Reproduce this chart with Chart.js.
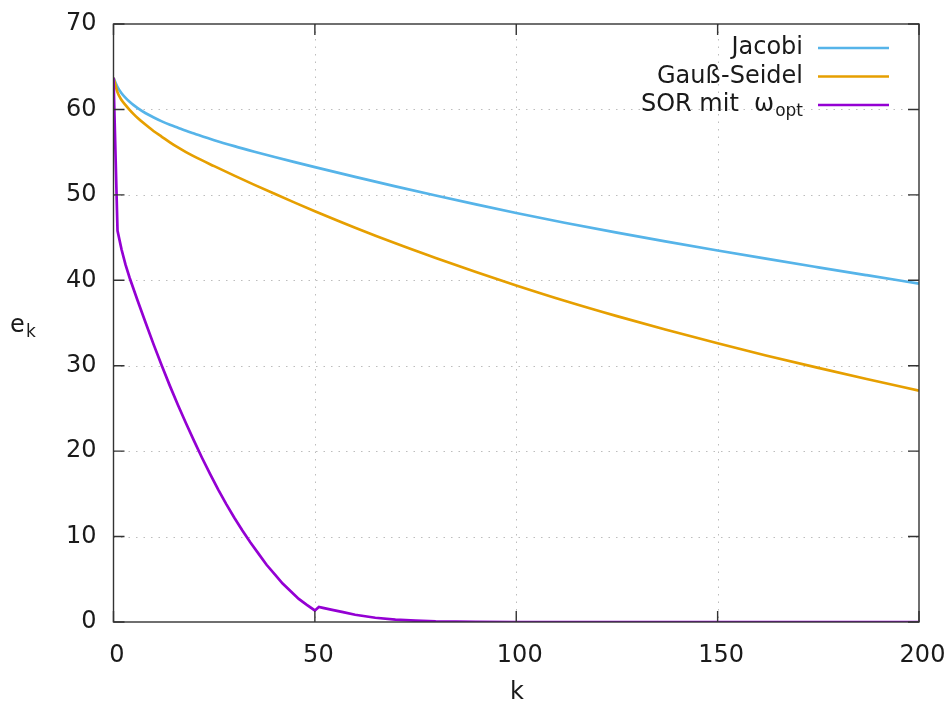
<!DOCTYPE html>
<html>
<head>
<meta charset="utf-8">
<script src="https://cdn.jsdelivr.net/npm/chart.js@4.4.1/dist/chart.umd.min.js"></script>
<style>
  html, body { margin: 0; padding: 0; background: #fff; }
  #wrap { width: 948px; height: 702px; }
</style>
</head>
<body>
<div id="wrap"><canvas id="chart" width="948" height="702"></canvas></div>
<script>
// ---- data ----
const kJacobi = [0, 1, 2, 3, 4, 5, 6, 8, 10, 12, 14, 16, 18, 20, 25, 30, 35, 40, 45, 50, 60, 70, 80, 90, 100, 112, 125, 137, 150, 162, 175, 187, 200];
const eJacobi = [63.7, 62.6, 61.9, 61.35, 60.9, 60.5, 60.15, 59.55, 59.05, 58.6, 58.2, 57.85, 57.5, 57.18, 56.4, 55.7, 55.05, 54.43, 53.83, 53.25, 52.11, 51.0, 49.92, 48.88, 47.88, 46.74, 45.58, 44.56, 43.49, 42.53, 41.52, 40.6, 39.61];

const kGauss = [0, 1, 2, 3, 4, 5, 6, 8, 10, 12, 14, 16, 18, 20, 25, 30, 35, 40, 45, 50, 60, 70, 80, 90, 100, 112, 125, 137, 150, 162, 175, 187, 200];
const eGauss = [63.7, 62.0, 61.1, 60.5, 59.95, 59.45, 59.0, 58.2, 57.45, 56.8, 56.15, 55.55, 55.0, 54.5, 53.36, 52.25, 51.17, 50.12, 49.09, 48.09, 46.16, 44.33, 42.61, 40.96, 39.39, 37.6, 35.8, 34.24, 32.63, 31.2, 29.74, 28.44, 27.09];

const kSor = [0, 1, 2, 3, 4, 6, 8, 10, 12, 14, 16, 18, 20, 22, 24, 26, 28, 30, 32, 34, 36, 38, 40, 42, 44, 46, 48, 50, 51, 52, 54, 57, 60, 65, 70, 75, 80, 90, 100, 150, 200];
const eSor = [63.7, 45.8, 43.6, 41.8, 40.3, 37.6, 35.0, 32.44, 30.0, 27.64, 25.4, 23.26, 21.2, 19.2, 17.3, 15.5, 13.8, 12.2, 10.7, 9.3, 8.0, 6.7, 5.6, 4.5, 3.6, 2.7, 2.0, 1.35, 1.75, 1.65, 1.45, 1.15, 0.85, 0.5, 0.28, 0.15, 0.07, 0.02, 0, 0, 0];

const xTicks = [0, 50, 100, 150, 200];
const yTicks = [0, 10, 20, 30, 40, 50, 60, 70];

const seriesNames = ["Jacobi", "Gauß-Seidel", "SOR mit  ω"];
const seriesColors = ["#56b4e9", "#e69f00", "#9400d3"];

const FONT = "'DejaVu Sans', 'Liberation Sans', sans-serif";
const TEXT_COLOR = "#1a1a1a";
const FS = 24;   // Hauptschrift
const FS_SUB = 17;

function toPoints(ks, es) {
    return ks.map(function (k, i) { return { x: k, y: es[i] }; });
}

// gnuplot-artiger Rahmen: Gitter, Box, Ticks nach innen, Legende, Achsentitel
const gnuplotFrame = {
    id: "gnuplotFrame",
    beforeDatasetsDraw(chart) {
        const ctx = chart.ctx;
        const a = chart.chartArea;
        const xs = chart.scales.x;
        const ys = chart.scales.y;
        ctx.save();
        ctx.strokeStyle = "#bdbdbd";
        ctx.lineWidth = 1;
        ctx.setLineDash([1.5, 6]);
        xTicks.slice(1, -1).forEach(function (v) {
            const px = Math.round(xs.getPixelForValue(v)) + 0.5;
            ctx.beginPath();
            ctx.moveTo(px, a.top);
            ctx.lineTo(px, a.bottom);
            ctx.stroke();
        });
        yTicks.slice(1, -1).forEach(function (v) {
            const py = Math.round(ys.getPixelForValue(v)) + 0.5;
            ctx.beginPath();
            ctx.moveTo(a.left, py);
            ctx.lineTo(a.right, py);
            ctx.stroke();
        });
        ctx.restore();
    },
    afterDatasetsDraw(chart) {
        const ctx = chart.ctx;
        const a = chart.chartArea;
        const xs = chart.scales.x;
        const ys = chart.scales.y;
        const tl = 11;
        ctx.save();
        ctx.setLineDash([]);
        ctx.strokeStyle = "#333";
        ctx.lineWidth = 1.4;
        ctx.strokeRect(a.left, a.top, a.right - a.left, a.bottom - a.top);
        ctx.beginPath();
        xTicks.forEach(function (v) {
            const px = xs.getPixelForValue(v);
            ctx.moveTo(px, a.bottom); ctx.lineTo(px, a.bottom - tl);
            ctx.moveTo(px, a.top); ctx.lineTo(px, a.top + tl);
        });
        yTicks.forEach(function (v) {
            const py = ys.getPixelForValue(v);
            ctx.moveTo(a.left, py); ctx.lineTo(a.left + tl, py);
            ctx.moveTo(a.right, py); ctx.lineTo(a.right - tl, py);
        });
        ctx.stroke();

        // Legende (Text rechtsbündig, Linie rechts davon)
        const textRight = 803;
        const lineX0 = 818, lineX1 = 889;
        const rowY = [48, 76.5, 105];
        ctx.fillStyle = TEXT_COLOR;
        ctx.textBaseline = "middle";
        seriesNames.forEach(function (name, i) {
            const y = rowY[i];
            ctx.textAlign = "right";
            if (i === 2) {
                ctx.font = FS_SUB + "px " + FONT;
                const sub = "opt";
                ctx.fillText(sub, textRight, y + 7);
                const w = ctx.measureText(sub).width;
                ctx.font = FS + "px " + FONT;
                ctx.fillText(name, textRight - w - 1, y);
            } else {
                ctx.font = FS + "px " + FONT;
                ctx.fillText(name, textRight, y);
            }
            ctx.strokeStyle = seriesColors[i];
            ctx.lineWidth = 2.7;
            ctx.beginPath();
            ctx.moveTo(lineX0, y);
            ctx.lineTo(lineX1, y);
            ctx.stroke();
        });

        // Achsentitel
        ctx.textAlign = "left";
        ctx.textBaseline = "alphabetic";
        ctx.font = FS + "px " + FONT;
        ctx.fillText("e", 10, 332);
        ctx.font = FS_SUB + "px " + FONT;
        ctx.fillText("k", 26, 337);
        ctx.font = FS + "px " + FONT;
        ctx.textAlign = "center";
        ctx.fillText("k", 517, 699);
        ctx.restore();
    }
};

function makeDataset(i, ks, es, order, smooth) {
    return {
        label: seriesNames[i],
        data: toPoints(ks, es),
        showLine: true,
        borderColor: seriesColors[i],
        backgroundColor: seriesColors[i],
        borderWidth: 2.7,
        pointRadius: 0,
        tension: 0,
        cubicInterpolationMode: smooth ? "monotone" : "default",
        order: order
    };
}

function noPadding(scale) {
    scale.paddingLeft = 0;
    scale.paddingRight = 0;
    scale.paddingTop = 0;
    scale.paddingBottom = 0;
}

window.addEventListener("DOMContentLoaded", function () {
    const ctx = document.getElementById("chart").getContext("2d");
    new Chart(ctx, {
        type: "scatter",
        data: {
            datasets: [
                makeDataset(0, kJacobi, eJacobi, 3, true),
                makeDataset(1, kGauss, eGauss, 2, true),
                makeDataset(2, kSor, eSor, 1, false)
            ]
        },
        options: {
            responsive: false,
            animation: false,
            devicePixelRatio: 1,
            layout: { padding: { left: 0, right: 29, top: 24, bottom: 0 } },
            plugins: {
                legend: { display: false },
                tooltip: { enabled: false }
            },
            scales: {
                x: {
                    type: "linear",
                    min: 0,
                    max: 200,
                    afterBuildTicks: function (scale) {
                        scale.ticks = xTicks.map(function (v) { return { value: v }; });
                    },
                    afterFit: function (scale) { scale.height = 80; noPadding(scale); },
                    grid: { display: false, drawTicks: false },
                    border: { display: false },
                    ticks: {
                        padding: 19,
                        labelOffset: 3.5,
                        color: TEXT_COLOR,
                        font: { family: FONT, size: FS }
                    }
                },
                y: {
                    type: "linear",
                    min: 0,
                    max: 70,
                    afterBuildTicks: function (scale) {
                        scale.ticks = yTicks.map(function (v) { return { value: v }; });
                    },
                    afterFit: function (scale) { scale.width = 113.5; noPadding(scale); },
                    grid: { display: false, drawTicks: false },
                    border: { display: false },
                    ticks: {
                        padding: 17,
                        color: TEXT_COLOR,
                        font: { family: FONT, size: FS }
                    }
                }
            }
        },
        plugins: [gnuplotFrame]
    });
});
</script>
</body>
</html>
